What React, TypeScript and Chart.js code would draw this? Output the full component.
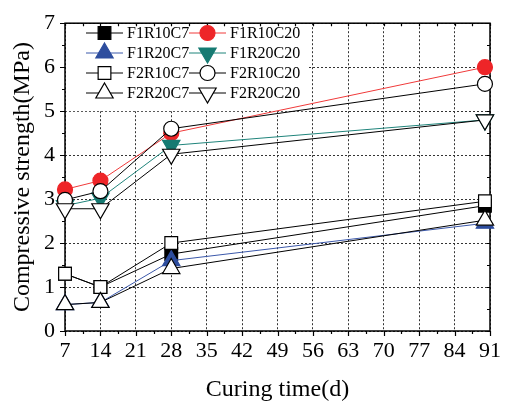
import React, { useEffect, useRef } from 'react';
import { Chart, registerables } from 'chart.js';
import { drawPoint } from 'chart.js/helpers';

Chart.register(...registerables);

const days = [7, 14, 28, 90];
const xTickValues = [7, 14, 21, 28, 35, 42, 49, 56, 63, 70, 77, 84, 91];
const yTickValues = [0, 1, 2, 3, 4, 5, 6, 7];

const F1R10C7 = [1.3, 1.0, 1.75, 2.85];
const F1R10C20 = [3.22, 3.42, 4.5, 6.0];
const F1R20C7 = [0.6, 0.65, 1.6, 2.45];
const F1R20C20 = [2.85, 3.02, 4.22, 4.8];
const F2R10C7 = [1.3, 1.0, 2.0, 2.95];
const F2R10C20 = [2.98, 3.18, 4.6, 5.62];
const F2R20C7 = [0.6, 0.65, 1.42, 2.52];
const F2R20C20 = [2.78, 2.78, 4.02, 4.8];

const FONT = '"Liberation Serif", "Times New Roman", serif';

const series = [
  { label: 'F1R10C7', data: F1R10C7, line: '#000000', fill: '#000000', stroke: '#000000', style: 'rect', rot: 0, r: 9 },
  { label: 'F1R10C20', data: F1R10C20, line: '#f03a3a', fill: '#ee2528', stroke: '#ee2528', style: 'circle', rot: 0, r: 7.5 },
  { label: 'F1R20C7', data: F1R20C7, line: '#3b58aa', fill: '#2d4d9e', stroke: '#2d4d9e', style: 'triangle', rot: 0, r: 10 },
  { label: 'F1R20C20', data: F1R20C20, line: '#1f847b', fill: '#167a72', stroke: '#167a72', style: 'triangle', rot: 180, r: 10 },
  { label: 'F2R10C7', data: F2R10C7, line: '#000000', fill: '#ffffff', stroke: '#000000', style: 'rect', rot: 0, r: 9 },
  { label: 'F2R10C20', data: F2R10C20, line: '#000000', fill: '#ffffff', stroke: '#000000', style: 'circle', rot: 0, r: 7.5 },
  { label: 'F2R20C7', data: F2R20C7, line: '#000000', fill: '#ffffff', stroke: '#000000', style: 'triangle', rot: 0, r: 10 },
  { label: 'F2R20C20', data: F2R20C20, line: '#000000', fill: '#ffffff', stroke: '#000000', style: 'triangle', rot: 180, r: 10 },
];

const framePlugin = {
  id: 'frameAndLegend',
  beforeDatasetsDraw(chart: any) {
    const { ctx, chartArea } = chart;
    const { left, right, top, bottom } = chartArea;
    const xs = chart.scales.x;
    const ys = chart.scales.y;
    ctx.save();
    // legend background
    ctx.fillStyle = '#ffffff';
    ctx.fillRect(left + 1, top + 1, 241, 87);
    // frame
    ctx.strokeStyle = '#000';
    ctx.lineWidth = 1.5;
    ctx.strokeRect(left, top, right - left, bottom - top);
    ctx.lineWidth = 1.2;
    ctx.beginPath();
    for (let v = 7; v <= 91.01; v += 3.5) {
      const px = Math.round(xs.getPixelForValue(v)) + 0.5;
      const major = Math.abs(((v - 7) / 7) - Math.round((v - 7) / 7)) < 1e-6;
      const len = major ? 5 : 3;
      ctx.moveTo(px, bottom);
      ctx.lineTo(px, bottom + len);
      ctx.moveTo(px, top);
      ctx.lineTo(px, top + 3);
    }
    for (let v = 0; v <= 7.01; v += 0.5) {
      const py = Math.round(ys.getPixelForValue(v)) + 0.5;
      const major = Math.abs(v - Math.round(v)) < 1e-6;
      const len = major ? 5 : 3;
      ctx.moveTo(left, py);
      ctx.lineTo(left - len, py);
      ctx.moveTo(right, py);
      ctx.lineTo(right - 3, py);
    }
    ctx.stroke();

    // legend
    const rows = [33, 53, 73, 93];
    const cols = [86, 189];
    ctx.font = `16px ${FONT}`;
    ctx.textBaseline = 'middle';
    ctx.textAlign = 'left';
    series.forEach((s, i) => {
      const row = Math.floor(i / 2);
      const col = i % 2;
      const x0 = cols[col];
      const y0 = rows[row];
      ctx.strokeStyle = s.line;
      ctx.lineWidth = 1;
      ctx.beginPath();
      ctx.moveTo(x0, y0);
      ctx.lineTo(x0 + 37, y0);
      ctx.stroke();
      ctx.fillStyle = s.fill;
      ctx.strokeStyle = s.stroke;
      ctx.lineWidth = 1.2;
      drawPoint(ctx, { pointStyle: s.style as any, rotation: s.rot, radius: s.r, borderWidth: 1.2 }, x0 + 18.5, y0);
      ctx.fillStyle = '#000';
      ctx.fillText(s.label, x0 + 41, y0 + 1);
    });
    ctx.restore();
  },
};

export default function App() {
  const ref = useRef<HTMLCanvasElement | null>(null);
  useEffect(() => {
    if (!ref.current) return;
    const chart = new Chart(ref.current, {
      type: 'line',
      data: {
        datasets: series.map((s, i) => ({
          label: s.label,
          data: days.map((d, j) => ({ x: d, y: s.data[j] })),
          borderColor: s.line,
          backgroundColor: s.fill,
          borderWidth: 1,
          pointStyle: s.style as any,
          pointRotation: s.rot,
          pointRadius: s.r,
          pointHoverRadius: s.r,
          pointBackgroundColor: s.fill,
          pointBorderColor: s.stroke,
          pointBorderWidth: 1.2,
          tension: 0,
          clip: false as any,
          order: 7 - i,
        })),
      },
      options: {
        animation: false,
        responsive: false,
        devicePixelRatio: 1,
        events: [],
        layout: { padding: { top: 16, right: 11, left: 0, bottom: 0 } },
        plugins: { legend: { display: false }, tooltip: { enabled: false } },
        scales: {
          x: {
            type: 'linear',
            min: 7,
            max: 91,
            afterFit: (s: any) => { s.height = 75; },
            afterBuildTicks: (s: any) => { s.ticks = xTickValues.map((v) => ({ value: v })); },
            ticks: {
              autoSkip: false,
              maxRotation: 0,
              padding: 7,
              color: '#000',
              font: { family: FONT, size: 22 },
            },
            grid: { color: '#333', lineWidth: 1, drawTicks: false },
            border: { display: false, dash: [2, 2] },
            title: {
              display: true,
              text: 'Curing time(d)',
              color: '#000',
              font: { family: FONT, size: 24 },
              padding: { top: 0, bottom: 2 },
            },
          },
          y: {
            type: 'linear',
            min: 0,
            max: 7,
            afterFit: (s: any) => { s.width = 65; },
            afterBuildTicks: (s: any) => { s.ticks = yTickValues.map((v) => ({ value: v })); },
            ticks: {
              padding: 10,
              color: '#000',
              font: { family: FONT, size: 22 },
            },
            grid: { color: '#333', lineWidth: 1, drawTicks: false },
            border: { display: false, dash: [2, 2] },
            title: {
              display: true,
              text: 'Compressive strength(MPa)',
              color: '#000',
              font: { family: FONT, size: 24 },
              padding: { top: 8, bottom: 0 },
            },
          },
        },
      },
      plugins: [framePlugin],
    } as any);
    return () => chart.destroy();
  }, []);
  return (
    <div style={{ position: 'absolute', left: 0, top: 0, width: 508, height: 406, background: '#fff' }}>
      <canvas ref={ref} width={508} height={406} />
    </div>
  );
}
